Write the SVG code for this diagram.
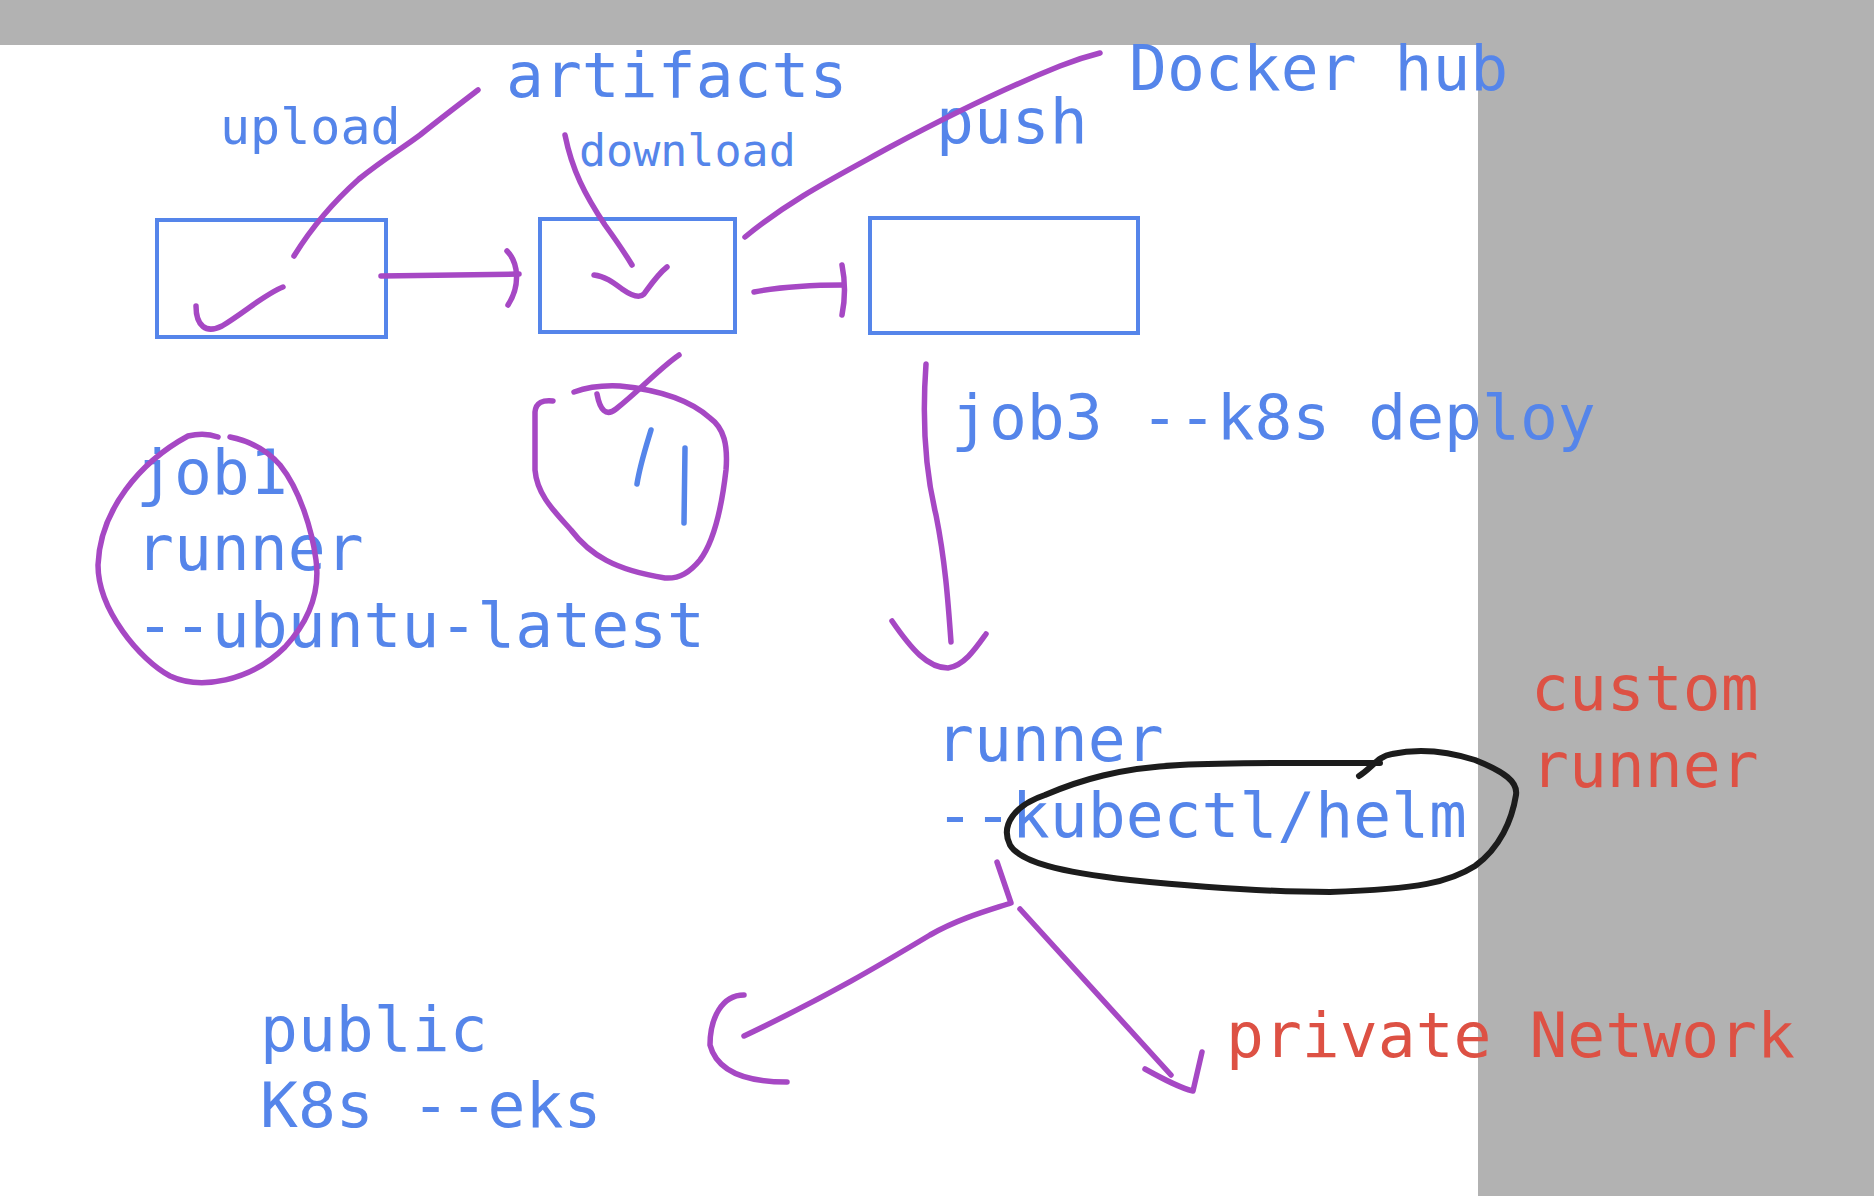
<svg xmlns="http://www.w3.org/2000/svg" width="1874" height="1196" viewBox="0 0 1874 1196">
<style>
.bg{fill:#ffffff}
.gray{fill:#b2b2b2}
.box{fill:none;stroke:#5585ea;stroke-width:4}
.ink{fill:none;stroke:#a648c4;stroke-width:5.5;stroke-linecap:round;stroke-linejoin:round}
.blk{fill:none;stroke:#1c1c1c;stroke-width:6;stroke-linecap:round;stroke-linejoin:round}
.bink{fill:none;stroke:#5585ea;stroke-width:5.5;stroke-linecap:round}
text{font-family:"DejaVu Sans Mono","Liberation Mono",monospace}
.t{fill:#5585ea;font-size:63px}
.r{fill:#dd5144;font-size:63px}
.s{fill:#5585ea;font-size:50px}
.xs{fill:#5585ea;font-size:45px}
</style>
<rect class="bg" x="0" y="0" width="1874" height="1196"/>
<rect class="gray" x="1478" y="0" width="396" height="1196"/>
<rect class="gray" x="0" y="0" width="1874" height="45"/>

<g id="job1-box"><rect class="box" x="157" y="220" width="229" height="117"/></g>
<g id="job2-box"><rect class="box" x="540" y="219" width="195" height="113"/></g>
<g id="job3-box"><rect class="box" x="870" y="218" width="268" height="115"/></g>

<g id="labels">
<text class="s" x="220" y="144">upload</text>
<text class="t" x="506" y="97">artifacts</text>
<text class="xs" x="579" y="166">download</text>
<text class="t" x="1129" y="90">Docker hub</text>
<text class="t" x="936" y="143">push</text>
<text class="t" x="951" y="439">job3 --k8s deploy</text>
</g>
<g id="job1-label">
<text class="t" x="136" y="494">job1</text>
<text class="t" x="136" y="570">runner</text>
<text class="t" x="136" y="647">--ubuntu-latest</text>
</g>
<g id="runner3-label">
<text class="t" x="936" y="761">runner</text>
<text class="t" x="936" y="837">--kubectl/helm</text>
</g>
<g id="custom-runner">
<text class="r" x="1531" y="710">custom</text>
<text class="r" x="1531" y="787">runner</text>
</g>
<g id="public-k8s">
<text class="t" x="260" y="1051">public</text>
<text class="t" x="260" y="1127">K8s --eks</text>
</g>
<g id="private-network">
<text class="r" x="1226" y="1057">private Network</text>
</g>

<g id="connectors">
<!-- upload -->
<path class="ink" d="M294,256 C310,230 330,205 359,179 C385,158 400,150 420,135 C445,115 465,100 478,90"/>
<path class="ink" d="M196,306 C196,326 206,334 222,326 C245,312 265,294 283,287"/>
<!-- job1 -> job2 -->
<path class="ink" d="M381,276 L519,274"/>
<path class="ink" d="M507,251 C518,262 521,285 508,305"/>
<!-- download -->
<path class="ink" d="M565,135 C572,170 585,195 605,225 C618,243 626,255 632,265"/>
<path class="ink" d="M594,275 C605,276 614,283 622,289 C632,296 640,298 644,294 C652,283 658,274 667,267"/>
<!-- push to docker hub -->
<path class="ink" d="M745,237 C790,200 830,180 890,147 C950,115 1010,86 1060,66 C1080,58 1092,55 1100,53"/>
<!-- job2 -> job3 -->
<path class="ink" d="M754,292 C785,286 815,285 843,285"/>
<path class="ink" d="M842,265 C846,285 845,300 842,315"/>
<!-- job3 deploy down -->
<path class="ink" d="M926,364 C922,420 925,470 936,515 C945,560 948,600 951,642"/>
<path class="ink" d="M892,621 C912,650 928,668 948,668 C964,666 976,648 986,634"/>
<!-- split -->
<path class="ink" d="M997,862 L1011,903 C990,910 960,918 930,935 C880,965 830,995 744,1036"/>
<path class="ink" d="M744,995 C722,995 710,1018 710,1045 C716,1068 740,1082 787,1082"/>
<path class="ink" d="M1020,909 L1171,1075"/>
<path class="ink" d="M1145,1069 C1165,1080 1180,1088 1193,1091 L1202,1052"/>
</g>

<g id="job1-circle">
<path class="ink" d="M218,437 C210,434 200,433 188,436 C140,462 100,510 98,565 C98,610 140,660 170,676 C200,690 250,682 285,647 C310,620 320,590 316,560 C312,530 300,490 280,465 C265,448 245,440 230,437"/>
</g>
<g id="job2-mark">
<path class="ink" d="M597,394 C600,410 606,417 616,409 C640,390 660,368 679,355"/>
<path class="ink" d="M553,401 C543,400 536,402 535,412 L535,470 C537,495 555,512 571,530 C590,555 615,570 665,578 C680,579 690,572 700,560 C715,540 722,505 726,470 C728,445 724,428 710,418 C690,400 660,390 620,386 C600,385 585,388 574,392"/>
<path class="bink" d="M651,430 C645,450 640,465 637,484"/>
<path class="bink" d="M685,448 L684,523"/>
</g>
<g id="helm-loop">
<path class="blk" d="M1359,776 C1372,768 1378,756 1392,754 C1420,748 1450,752 1475,760 C1505,772 1518,782 1516,795 C1512,820 1500,848 1475,866 C1450,882 1420,889 1330,892 C1270,892 1210,888 1130,880 C1060,872 1020,862 1010,845 C1000,825 1015,805 1045,795 C1080,780 1120,768 1180,765 C1240,762 1310,763 1380,763"/>
</g>
</svg>
